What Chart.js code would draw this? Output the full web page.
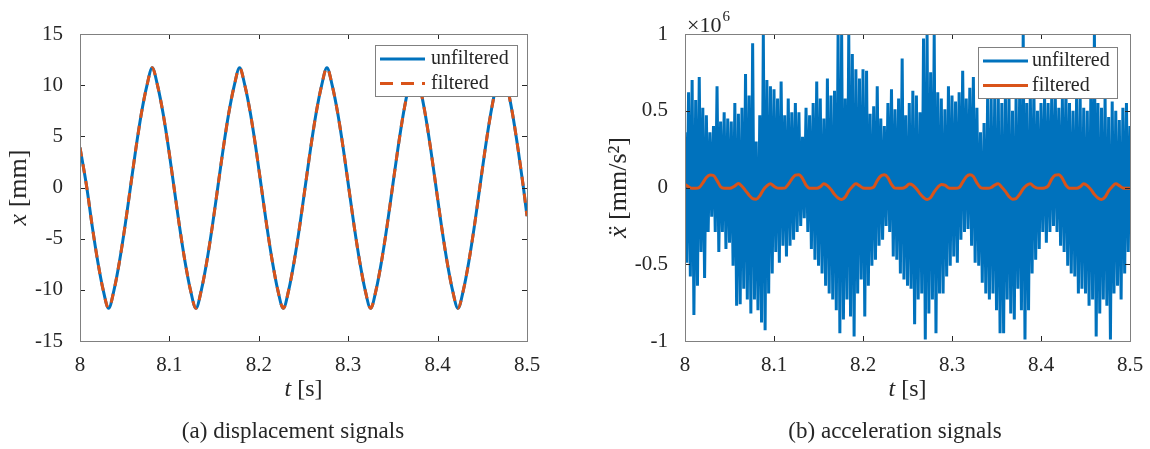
<!DOCTYPE html>
<html>
<head>
<meta charset="utf-8">
<script src="https://cdn.jsdelivr.net/npm/chart.js@4.4.1/dist/chart.umd.min.js"></script>
<style>
  body { margin: 0; background: #fff; }
  #wrap { position: relative; width: 1150px; height: 449px; }
  canvas { position: absolute; top: 0; }
</style>
</head>
<body>
<div id="wrap">
  <canvas id="disp-chart" width="575" height="449" style="left:0"></canvas>
  <canvas id="acc-chart" width="575" height="449" style="left:575px"></canvas>
</div>
<script>
var blue = "#0072bd";
var orange = "#d95319";
var axisColor = "#262626";
var boxColor = "#808080";
var serif = "'Liberation Serif', 'Times New Roman', serif";

var timeTicks = [8, 8.1, 8.2, 8.3, 8.4, 8.5];
var timeTickLabels = ["8", "8.1", "8.2", "8.3", "8.4", "8.5"];

// (a) displacement [mm]
var dispYTicks = [-15, -10, -5, 0, 5, 10, 15];
var dispYTickLabels = ["-15", "-10", "-5", "0", "5", "10", "15"];
var dispTime = [8.0000, 8.0076, 8.0137, 8.0198, 8.0259, 8.0320,
  8.0381, 8.0442, 8.0503, 8.0564, 8.0625, 8.0686, 8.0747, 8.0808,
  8.0869, 8.0930, 8.0991, 8.1052, 8.1113, 8.1174, 8.1235, 8.1297,
  8.1358, 8.1419, 8.1480, 8.1541, 8.1602, 8.1663, 8.1724, 8.1785,
  8.1846, 8.1907, 8.1968, 8.2029, 8.2090, 8.2151, 8.2212, 8.2274,
  8.2335, 8.2396, 8.2457, 8.2518, 8.2579, 8.2640, 8.2701, 8.2762,
  8.2823, 8.2884, 8.2945, 8.3006, 8.3067, 8.3128, 8.3189, 8.3251,
  8.3312, 8.3373, 8.3434, 8.3495, 8.3556, 8.3617, 8.3678, 8.3739,
  8.3800, 8.3861, 8.3922, 8.3983, 8.4044, 8.4105, 8.4166, 8.4228,
  8.4289, 8.4350, 8.4411, 8.4472, 8.4533, 8.4594, 8.4655, 8.4716,
  8.4777, 8.4838, 8.4899, 8.4960, 8.5000];
var dispUnfiltered = [3.9, 0.0, -3.8, -7.2, -10.0, -11.8,
  -10.0, -7.2, -3.8, 0.0, 3.8, 7.2, 9.9, 11.7,
  9.9, 7.2, 3.8, 0.0, -3.8, -7.2, -10.0, -11.8,
  -10.0, -7.2, -3.8, 0.0, 3.8, 7.2, 9.9, 11.7,
  9.9, 7.2, 3.8, 0.0, -3.8, -7.2, -10.0, -11.8,
  -10.0, -7.2, -3.8, 0.0, 3.8, 7.2, 9.9, 11.7,
  9.9, 7.2, 3.8, 0.0, -3.8, -7.2, -10.0, -11.8,
  -10.0, -7.2, -3.8, 0.0, 3.8, 7.2, 9.9, 11.7,
  9.9, 7.2, 3.8, 0.0, -3.8, -7.2, -10.0, -11.8,
  -10.0, -7.2, -3.8, 0.0, 3.8, 7.2, 9.9, 11.7,
  9.9, 7.2, 3.8, 0.0, -2.8];
// filtered trace lies on top of the raw one
var dispFiltered = dispUnfiltered.slice();

// (b) acceleration [x1e6 mm/s^2], sampled every 4 ms from t = 8
var accYTicks = [-1, -0.5, 0, 0.5, 1];
var accYTickLabels = ["-1", "-0.5", "0", "0.5", "1"];
var accStep = 0.004;
var accUpper = [0.36, 0.62, 0.70, 0.57, 0.72, 0.52, 0.47, 0.36, 0.40, 0.66,
  0.43, 0.49, 0.45, 0.43, 0.55, 0.48, 0.52, 0.74, 0.60, 0.94,
  0.30, 0.47, 1.00, 0.70, 0.66, 0.64, 0.58, 0.69, 0.47, 0.58,
  0.49, 0.55, 0.49, 0.33, 0.52, 0.47, 0.55, 0.69, 0.58, 0.45,
  0.71, 0.60, 0.63, 1.00, 1.00, 0.58, 1.00, 0.87, 0.77, 0.71,
  0.77, 0.76, 0.48, 0.53, 0.66, 0.45, 0.40, 0.55, 0.64, 0.51,
  0.58, 0.84, 0.47, 0.55, 0.63, 0.60, 0.49, 0.97, 1.00, 0.75,
  1.00, 0.62, 0.58, 0.51, 0.66, 0.60, 0.56, 0.62, 0.76, 0.58,
  0.65, 0.72, 0.52, 0.36, 0.42, 0.58, 0.59, 0.60, 0.60, 0.55,
  0.62, 0.62, 0.50, 0.60, 0.60, 1.00, 0.55, 0.62, 0.65, 0.50,
  0.55, 0.60, 0.55, 0.58, 0.62, 0.52, 0.58, 0.65, 0.55, 0.50,
  0.60, 0.58, 0.52, 0.50, 0.62, 1.00, 0.55, 0.52, 0.60, 0.46,
  0.56, 0.50, 0.44, 0.52, 0.55, 0.40];
var accLower = [-0.49, -0.58, -0.83, -0.64, -0.42, -0.59, -0.29, -0.19, -0.29, -0.42,
  -0.29, -0.40, -0.36, -0.51, -0.77, -0.76, -0.66, -0.73, -0.82, -0.73,
  -0.80, -0.88, -0.93, -0.69, -0.56, -0.42, -0.49, -0.38, -0.45, -0.38,
  -0.34, -0.29, -0.25, -0.20, -0.29, -0.40, -0.47, -0.51, -0.56, -0.64,
  -0.69, -0.73, -0.80, -0.95, -0.86, -0.73, -0.84, -0.97, -0.69, -0.60,
  -0.84, -0.64, -0.51, -0.47, -0.38, -0.34, -0.25, -0.29, -0.45, -0.47,
  -0.56, -0.60, -0.64, -0.66, -0.89, -0.73, -0.69, -0.99, -0.82, -0.73,
  -0.95, -0.69, -0.69, -0.58, -0.51, -0.45, -0.49, -0.34, -0.29, -0.27,
  -0.38, -0.49, -0.51, -0.62, -0.69, -0.73, -0.69, -0.80, -0.95, -0.95,
  -0.73, -0.82, -0.86, -0.66, -0.80, -0.99, -0.80, -0.56, -0.47, -0.40,
  -0.29, -0.36, -0.29, -0.25, -0.29, -0.38, -0.42, -0.51, -0.56, -0.58,
  -0.69, -0.66, -0.69, -0.77, -0.73, -0.97, -0.82, -0.73, -0.77, -0.99,
  -0.69, -0.64, -0.73, -0.56, -0.42, -0.27];
var accFiltered = [0.020, 0.005, -0.005, -0.005, 0.000, 0.030, 0.065, 0.082, 0.078, 0.045,
  0.005, -0.005, -0.005, -0.003, 0.010, 0.026, 0.008, -0.020, -0.050, -0.072,
  -0.076, -0.055, -0.015, 0.010, 0.025, 0.008, -0.004, -0.005, -0.004, 0.020,
  0.055, 0.080, 0.083, 0.060, 0.015, -0.005, -0.005, -0.005, 0.005, 0.024,
  0.012, -0.012, -0.045, -0.068, -0.078, -0.062, -0.022, 0.005, 0.024, 0.012,
  -0.003, -0.005, -0.005, 0.002, 0.045, 0.075, 0.083, 0.065, 0.020, -0.004,
  -0.005, -0.005, 0.004, 0.022, 0.015, -0.008, -0.040, -0.065, -0.078, -0.065,
  -0.028, 0.002, 0.020, 0.015, -0.002, -0.005, -0.005, 0.000, 0.035, 0.070,
  0.083, 0.072, 0.030, 0.000, -0.005, -0.005, 0.000, 0.016, 0.024, 0.002,
  -0.025, -0.058, -0.076, -0.072, -0.045, -0.008, 0.015, 0.024, 0.006, -0.004,
  -0.005, -0.003, 0.010, 0.055, 0.080, 0.083, 0.060, 0.015, -0.005, -0.005,
  -0.005, 0.005, 0.024, 0.012, -0.012, -0.045, -0.068, -0.078, -0.062, -0.022,
  0.005, 0.024, 0.012, -0.003, -0.005, -0.005];

function toPoints(xs, ys) {
  return xs.map(function(x, i) { return {x: x, y: ys[i]}; });
}

var accTime = accUpper.map(function(v, i) { return 8 + i * accStep; });
// raw signal swings between the read-off peaks and troughs
var accRaw = [];
for (var i = 0; i < accUpper.length; i++) {
  accRaw.push({x: accTime[i], y: accUpper[i]});
  accRaw.push({x: accTime[i] + accStep / 2, y: accLower[i]});
}

// text in mixed styles, e.g. italic symbol + upright unit
function runFont(r, size) { return (r[1] || "") + " " + size + "px " + serif; }
function runsWidth(ctx, runs, size) {
  var w = 0;
  runs.forEach(function(r) { ctx.font = runFont(r, size); w += ctx.measureText(r[0]).width; });
  return w;
}
function drawRuns(ctx, runs, x, y, size) {
  runs.forEach(function(r) {
    ctx.font = runFont(r, size);
    ctx.fillText(r[0], x, y);
    x += ctx.measureText(r[0]).width;
  });
}

var figurePlugin = {
  id: "figure",
  afterDatasetsDraw: function(chart) {
    var o = chart.options.plugins.figure;
    var ctx = chart.ctx, a = chart.chartArea;
    var xs = chart.scales.x, ys = chart.scales.y;
    ctx.save();
    // inward ticks on all four sides, then the box
    ctx.strokeStyle = axisColor;
    ctx.lineWidth = 1;
    ctx.beginPath();
    xs.ticks.forEach(function(t) {
      var px = Math.round(xs.getPixelForValue(t.value)) + 0.5;
      ctx.moveTo(px, a.top); ctx.lineTo(px, a.top + 5);
      ctx.moveTo(px, a.bottom); ctx.lineTo(px, a.bottom - 5);
    });
    ys.ticks.forEach(function(t) {
      var py = Math.round(ys.getPixelForValue(t.value)) + 0.5;
      ctx.moveTo(a.left, py); ctx.lineTo(a.left + 5, py);
      ctx.moveTo(a.right, py); ctx.lineTo(a.right - 5, py);
    });
    ctx.stroke();
    ctx.strokeStyle = boxColor;
    ctx.strokeRect(a.left + 0.5, a.top + 0.5, a.right - a.left, a.bottom - a.top);

    // legend box
    var L = o.legend;
    var lx = a.right - L.right - L.width, ly = a.top + L.top;
    ctx.fillStyle = "#fff";
    ctx.fillRect(lx, ly, L.width, L.height);
    ctx.strokeStyle = boxColor;
    ctx.strokeRect(Math.round(lx) + 0.5, Math.round(ly) + 0.5, L.width, L.height);
    chart.data.datasets.forEach(function(ds, k) {
      var ry = ly + 14 + k * 24.5;
      ctx.strokeStyle = ds.borderColor;
      ctx.lineWidth = 3;
      ctx.setLineDash(ds.borderDash ? [13, 8] : []);
      ctx.beginPath();
      ctx.moveTo(lx + 5, ry); ctx.lineTo(lx + 50, ry);
      ctx.stroke();
      ctx.setLineDash([]);
      ctx.fillStyle = axisColor;
      ctx.font = "20px " + serif;
      ctx.textBaseline = "middle";
      ctx.fillText(ds.label, lx + L.textX, ry);
    });
    ctx.restore();
  },
  afterDraw: function(chart) {
    var o = chart.options.plugins.figure;
    var ctx = chart.ctx, a = chart.chartArea;
    ctx.save();
    ctx.fillStyle = axisColor;
    ctx.textBaseline = "alphabetic";
    var cx = (a.left + a.right) / 2;
    drawRuns(ctx, o.xTitle, cx - runsWidth(ctx, o.xTitle, 24) / 2, 396, 24);

    ctx.save();
    ctx.translate(a.left - o.yTitleGap, (a.top + a.bottom) / 2);
    ctx.rotate(-Math.PI / 2);
    drawRuns(ctx, o.yTitle, -runsWidth(ctx, o.yTitle, 26) / 2, 0, 26);
    ctx.restore();

    ctx.font = "23px " + serif;
    ctx.textAlign = "center";
    ctx.fillText(o.caption, o.captionX, 438);
    ctx.textAlign = "left";

    if (o.exponent) {
      ctx.font = "22px " + serif;
      ctx.fillText("\u00d710", a.left + 2, 32);
      var w = ctx.measureText("\u00d710").width;
      ctx.font = "15px " + serif;
      ctx.fillText("6", a.left + 2 + w + 1, 21);
    }
    ctx.restore();
  }
};

Chart.defaults.font.family = serif;
Chart.defaults.font.size = 21;
Chart.defaults.color = axisColor;

function makeScales(yMin, yMax, yTicks, yLabels, yWidth) {
  return {
    x: {
      type: "linear", min: 8, max: 8.5,
      afterBuildTicks: function(s) { s.ticks = timeTicks.map(function(v) { return {value: v}; }); },
      afterFit: function(s) { s.height = 108; },
      ticks: { padding: 4, maxRotation: 0, autoSkip: false,
        callback: function(v, i) { return timeTickLabels[i]; } },
      grid: { display: false },
      border: { display: false }
    },
    y: {
      type: "linear", min: yMin, max: yMax,
      afterBuildTicks: function(s) { s.ticks = yTicks.map(function(v) { return {value: v}; }); },
      afterFit: function(s) { s.width = yWidth; },
      ticks: { padding: 9, autoSkip: false,
        callback: function(v, i) { return yLabels[i]; } },
      grid: { display: false },
      border: { display: false }
    }
  };
}

// lower "order" is drawn on top
var dispChart = new Chart(document.getElementById("disp-chart"), {
  type: "line",
  data: {
    datasets: [
      { label: "unfiltered", data: toPoints(dispTime, dispUnfiltered), order: 1,
        borderColor: blue, borderWidth: 3, pointRadius: 0, cubicInterpolationMode: "monotone" },
      { label: "filtered", data: toPoints(dispTime, dispFiltered), order: 0,
        borderColor: orange, borderWidth: 3, borderDash: [9, 8], pointRadius: 0, cubicInterpolationMode: "monotone" }
    ]
  },
  options: {
    responsive: false, animation: false,
    layout: { padding: { top: 34, right: 48, left: 0, bottom: 0 } },
    scales: makeScales(-15, 15, dispYTicks, dispYTickLabels, 80),
    plugins: {
      legend: { display: false }, tooltip: { enabled: false },
      figure: {
        xTitle: [["t", "italic"], [" [s]", ""]],
        yTitle: [["x", "italic"], [" [mm]", ""]],
        yTitleGap: 54,
        caption: "(a) displacement signals", captionX: 293,
        legend: { right: 10, top: 11, width: 142, height: 51, textX: 56 }
      }
    }
  },
  plugins: [figurePlugin]
});

var accChart = new Chart(document.getElementById("acc-chart"), {
  type: "line",
  data: {
    datasets: [
      { label: "unfiltered", data: accRaw, order: 1,
        borderColor: blue, borderWidth: 3, borderJoinStyle: "bevel", pointRadius: 0 },
      { label: "filtered", data: toPoints(accTime, accFiltered), order: 0,
        borderColor: orange, borderWidth: 3, pointRadius: 0, cubicInterpolationMode: "monotone" }
    ]
  },
  options: {
    responsive: false, animation: false,
    layout: { padding: { top: 34, right: 20, left: 0, bottom: 0 } },
    scales: makeScales(-1, 1, accYTicks, accYTickLabels, 110),
    plugins: {
      legend: { display: false }, tooltip: { enabled: false },
      figure: {
        xTitle: [["t", "italic"], [" [s]", ""]],
        yTitle: [["x\u0308", "italic"], [" [mm/s\u00b2]", ""]],
        yTitleGap: 59,
        caption: "(b) acceleration signals", captionX: 320,
        exponent: true,
        legend: { right: 13, top: 13, width: 139, height: 51, textX: 54 }
      }
    }
  },
  plugins: [figurePlugin]
});
</script>
</body>
</html>
